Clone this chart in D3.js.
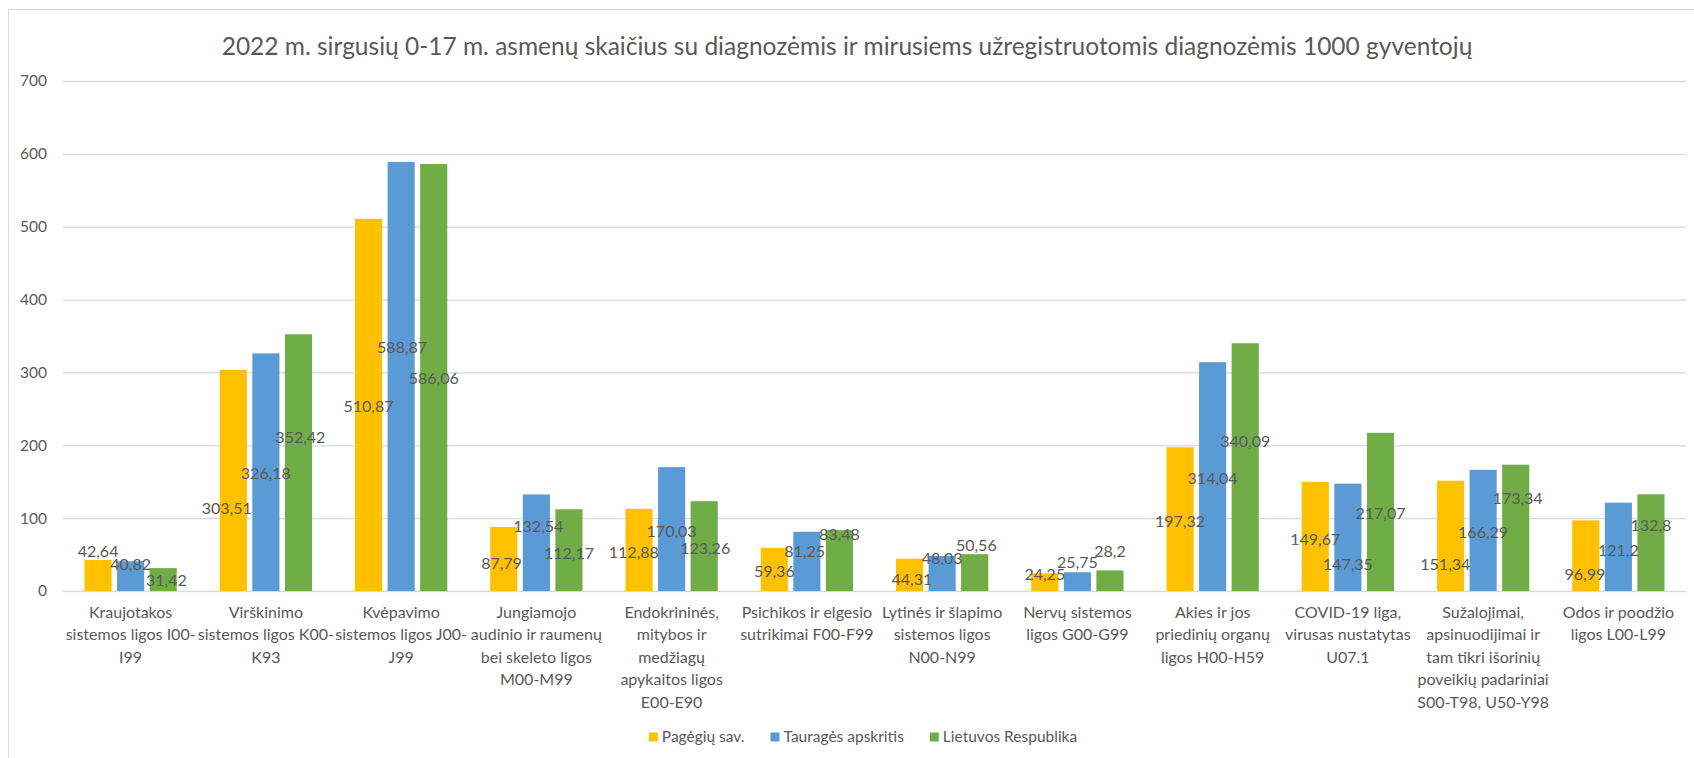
<!DOCTYPE html>
<html>
<head>
<meta charset="utf-8">
<script src="https://cdn.jsdelivr.net/npm/d3@7"></script>
<style>
  body { margin: 0; background: #fff; }
  svg text { font-family: Lato, "Open Sans", sans-serif; fill: #595959; }
</style>
</head>
<body>
<svg id="chart" width="1694" height="758"></svg>
<script>
// duomenys
var categories = [
  "Kraujotakos sistemos ligos I00-I99",
  "Virškinimo sistemos ligos K00-K93",
  "Kvėpavimo sistemos ligos J00-J99",
  "Jungiamojo audinio ir raumenų bei skeleto ligos M00-M99",
  "Endokrininės, mitybos ir medžiagų apykaitos ligos E00-E90",
  "Psichikos ir elgesio sutrikimai F00-F99",
  "Lytinės ir šlapimo sistemos ligos N00-N99",
  "Nervų sistemos ligos G00-G99",
  "Akies ir jos priedinių organų ligos H00-H59",
  "COVID-19 liga, virusas nustatytas U07.1",
  "Sužalojimai, apsinuodijimai ir tam tikri išorinių poveikių padariniai S00-T98, U50-Y98",
  "Odos ir poodžio ligos L00-L99"
];
var tickLines = [
  ["Kraujotakos", "sistemos ligos I00-", "I99"],
  ["Virškinimo", "sistemos ligos K00-", "K93"],
  ["Kvėpavimo", "sistemos ligos J00-", "J99"],
  ["Jungiamojo", "audinio ir raumenų", "bei skeleto ligos", "M00-M99"],
  ["Endokrininės,", "mitybos ir", "medžiagų", "apykaitos ligos", "E00-E90"],
  ["Psichikos ir elgesio", "sutrikimai F00-F99"],
  ["Lytinės ir šlapimo", "sistemos ligos", "N00-N99"],
  ["Nervų sistemos", "ligos G00-G99"],
  ["Akies ir jos", "priedinių organų", "ligos H00-H59"],
  ["COVID-19 liga,", "virusas nustatytas", "U07.1"],
  ["Sužalojimai,", "apsinuodijimai ir", "tam tikri išorinių", "poveikių padariniai", "S00-T98, U50-Y98"],
  ["Odos ir poodžio", "ligos L00-L99"]
];
var series = ["Pagėgių sav.", "Tauragės apskritis", "Lietuvos Respublika"];
var pagegiai = [42.64, 303.51, 510.87, 87.79, 112.88, 59.36, 44.31, 24.25, 197.32, 149.67, 151.34, 96.99];
var taurage  = [40.82, 326.18, 588.87, 132.54, 170.03, 81.25, 48.03, 25.75, 314.04, 147.35, 166.29, 121.2];
var lietuva  = [31.42, 352.42, 586.06, 112.17, 123.26, 83.48, 50.56, 28.2, 340.09, 217.07, 173.34, 132.8];
var yTicks = [0, 100, 200, 300, 400, 500, 600, 700];
var title = "2022 m. sirgusių 0-17 m. asmenų skaičius su diagnozėmis ir mirusiems užregistruotomis diagnozėmis 1000 gyventojų";

// kur stovi reikšmių etiketės (Excel jas išmėtė)
var labelAt = [
  [55, 114, 254, 38, 53, 27, 16, 23, 95, 71, 36, 23],
  [36, 161, 335, 89, 82, 55, 45, 39, 155, 36, 81, 56],
  [15, 211, 292, 52, 59, 78, 62, 54, 206, 106, 127, 90]
];
var labelDx = [
  [0, -0.2, 0, -0.07, -0.16, 0, 0.07, 0, 0, 0, -0.16, -0.03],
  [0, 0, 0.03, 0.06, 0, -0.07, 0, 0, 0, 0, 0, 0],
  [0.1, 0.06, 0, 0, 0.03, 0, 0.05, 0, 0, 0, 0.06, 0]
];
var colors = ["#FFC000", "#5B9BD5", "#70AD47"];

var values = [pagegiai, taurage, lietuva];

var svg = d3.select("#chart"),
  W = +svg.attr("width");

svg.append("rect")
  .attr("x", 8.5).attr("y", 9.5)
  .attr("width", W + 10).attr("height", 800)
  .attr("fill", "#fff").attr("stroke", "#d9d9d9");

var x0 = d3.scaleBand().domain(categories).range([63, 1686]).padding(0);
var x1 = d3.scaleBand().domain(series).range([0, x0.bandwidth()])
  .paddingInner(0.167).paddingOuter(0.66);
var y = d3.scaleLinear().domain([0, 700]).range([591, 81]);

svg.append("text")
  .attr("x", W / 2).attr("y", 46)
  .attr("dy", "0.35em")
  .attr("text-anchor", "middle")
  .style("font-size", "24.5px")
  .text(title);

// y asis + tinklelis
var gy = svg.append("g")
  .attr("transform", "translate(63,0)")
  .call(d3.axisLeft(y).tickValues(yTicks).tickSize(-1623).tickPadding(16));
gy.select(".domain").remove();
gy.selectAll(".tick line").attr("stroke", "#d9d9d9").attr("stroke-width", 1.3);
gy.selectAll(".tick text").style("font-size", "15.5px").attr("fill", "#595959");

// x etiketės
var gx = svg.append("g")
  .attr("transform", "translate(0,591)")
  .call(d3.axisBottom(x0).tickSize(0).tickFormat(""));
gx.select(".domain").remove();
gx.selectAll(".tick").each(function(d, i) {
  var t = d3.select(this).append("text")
    .attr("text-anchor", "middle")
    .style("font-size", "16px");
  tickLines[i].forEach(function(line, k) {
    t.append("tspan").attr("x", 0).attr("y", 21 + k * 22.5).attr("dy", "0.35em").text(line);
  });
});

// stulpeliai
series.forEach(function(s, si) {
  var g = svg.append("g").attr("class", "serie");
  g.selectAll("rect")
    .data(values[si])
    .enter().append("rect")
    .attr("x", function(d, i) { return x0(categories[i]) + x1(s); })
    .attr("y", function(d) { return y(d); })
    .attr("width", x1.bandwidth())
    .attr("height", function(d) { return y(0) - y(d); })
    .attr("fill", colors[si]);
});

// reikšmių etiketės
series.forEach(function(s, si) {
  svg.append("g").selectAll("text")
    .data(values[si])
    .enter().append("text")
    .attr("x", function(d, i) {
      return x0(categories[i]) + x1(s) + x1.bandwidth() / 2 + labelDx[si][i] * x1.step();
    })
    .attr("y", function(d, i) { return y(labelAt[si][i]); })
    .attr("dy", "0.35em")
    .attr("text-anchor", "middle")
    .style("font-size", "16px")
    .attr("fill", "#404040")
    .text(function(d) { return String(d).replace(".", ","); });
});

// legenda
var legend = svg.append("g");
var lx = 0;
series.forEach(function(s, si) {
  var item = legend.append("g").attr("transform", "translate(" + lx + ",0)");
  item.append("rect").attr("x", 0).attr("y", -4.5).attr("width", 9).attr("height", 9).attr("fill", colors[si]);
  var t = item.append("text").attr("x", 13).attr("dy", "0.35em").style("font-size", "15.5px").text(s);
  lx += 13 + t.node().getComputedTextLength() + 26;
});
lx -= 26;
legend.attr("transform", "translate(" + (863 - lx / 2) + ",737)");
</script>
</body>
</html>
